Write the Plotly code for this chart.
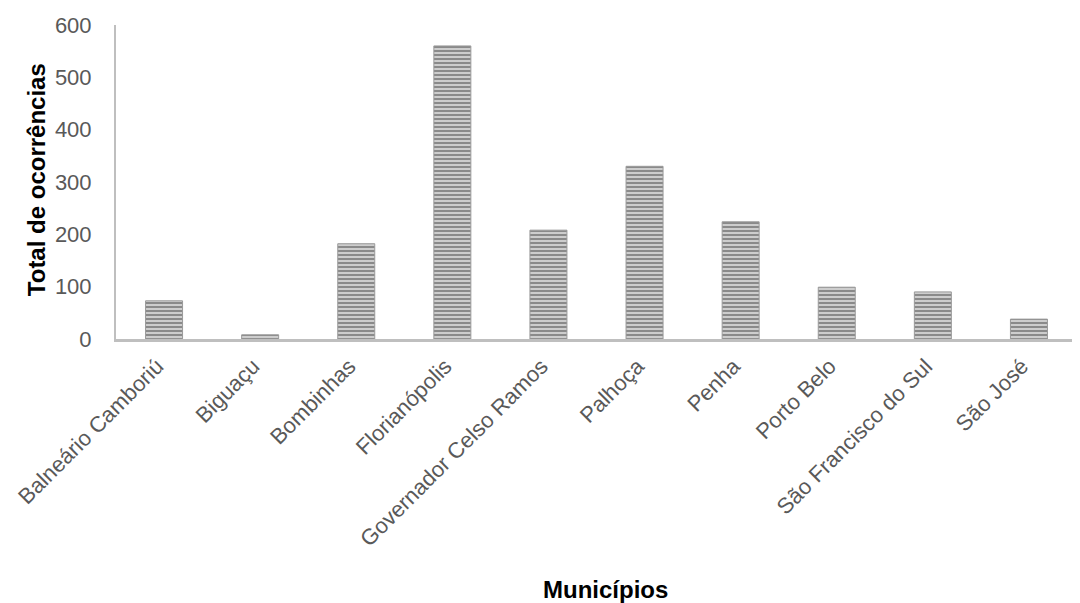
import plotly.graph_objects as go

municipios = ["Balneário Camboriú", "Biguaçu", "Bombinhas", "Florianópolis",
              "Governador Celso Ramos", "Palhoça", "Penha", "Porto Belo",
              "São Francisco do Sul", "São José"]
ocorrencias = [73, 8, 182, 560, 208, 330, 224, 99, 90, 38]
y_ticks = [0, 100, 200, 300, 400, 500, 600]

fig = go.Figure()
fig.add_trace(go.Bar(
    x=municipios, y=ocorrencias,
    marker=dict(
        color="#c4c4c4",
        line=dict(color="#9a9a9a", width=1),
        pattern=dict(shape="-", fgcolor="#484848", bgcolor="#cdcdcd",
                     size=4, solidity=0.5, fillmode="overlay"),
    ),
    width=0.385,
))

font_family = "Liberation Sans, Arial, sans-serif"
fig.update_layout(
    width=1072, height=595,
    margin=dict(l=108, r=3, t=17, b=264, autoexpand=False),
    paper_bgcolor="white", plot_bgcolor="white",
    showlegend=False,
    font=dict(family=font_family, color="#595959", size=22),
    xaxis=dict(
        showline=True, linecolor="#bfbfbf", linewidth=2.5,
        showgrid=False, ticks="", tickangle=-45, automargin=False,
        ticklabelshift=-7, ticklabelstandoff=3,
        tickfont=dict(size=22, color="#595959", family=font_family),
        range=[-0.5, 9.5],
    ),
    yaxis=dict(
        range=[0, 600], tickvals=y_ticks, automargin=False,
        showline=True, linecolor="#bfbfbf", linewidth=2,
        showgrid=False, ticks="", zeroline=False,
        ticklabelstandoff=18,
        tickfont=dict(size=22, color="#595959", family=font_family),
    ),
    annotations=[
        dict(text="<b>Municípios</b>", xref="paper", yref="paper",
             x=0.509, y=-0.798, xanchor="center", yanchor="middle",
             showarrow=False,
             font=dict(size=24, color="#000000", family=font_family)),
        dict(text="<b>Total de ocorrências</b>", xref="paper", yref="paper",
             x=-0.0832, y=0.506, xanchor="center", yanchor="middle",
             textangle=-90, showarrow=False,
             font=dict(size=24, color="#000000", family=font_family)),
    ],
)

fig.write_html("out.html")
